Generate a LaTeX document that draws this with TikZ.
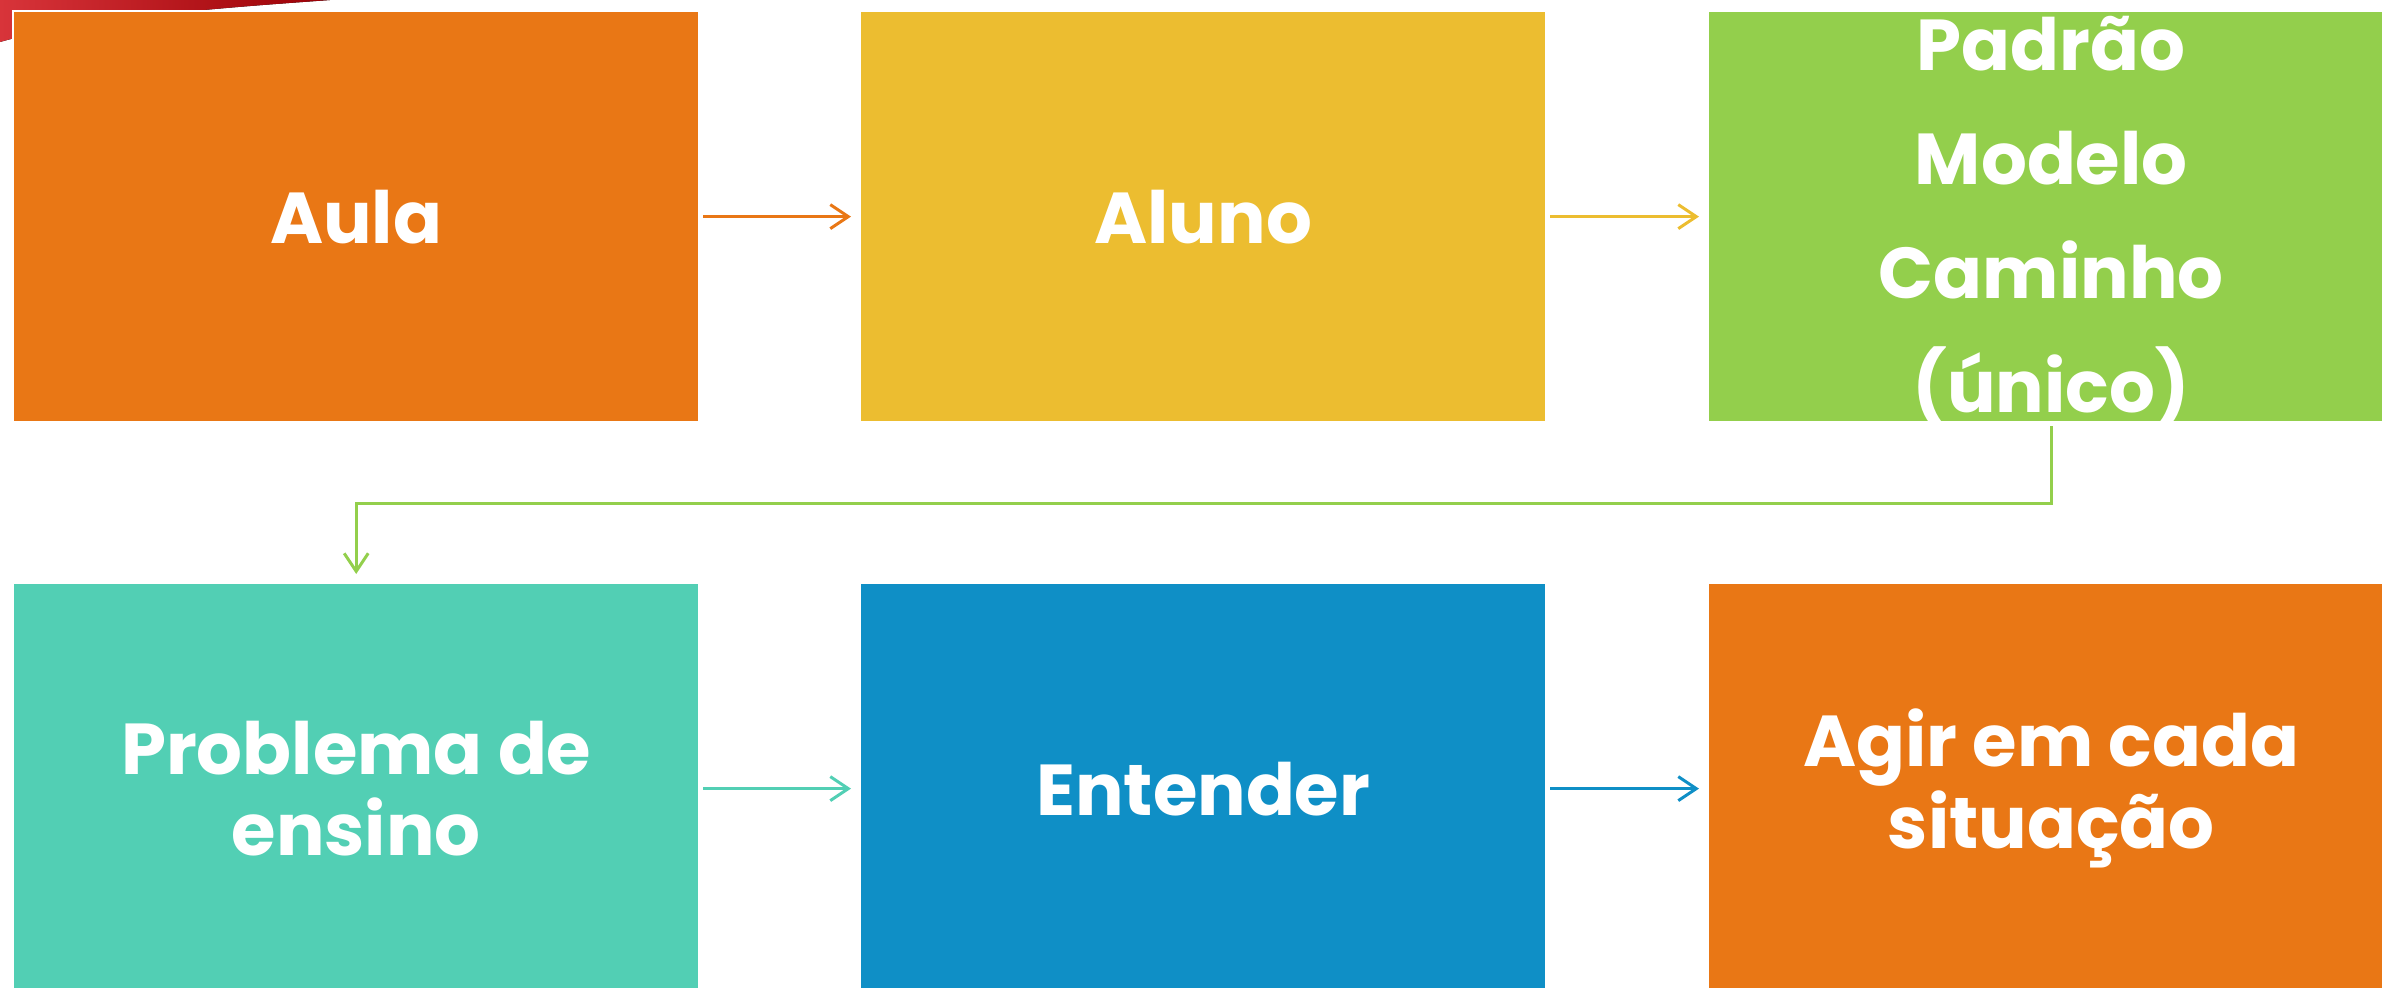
\documentclass[tikz,border=0pt]{standalone}
\usepackage{fontspec}
\setmainfont{Poppins}
\usetikzlibrary{arrows.meta}
\definecolor{cOrange}{HTML}{E97715}
\definecolor{cYellow}{HTML}{ECBD30}
\definecolor{cGreen}{HTML}{93CF4C}
\definecolor{cTeal}{HTML}{52CFB4}
\definecolor{cBlue}{HTML}{0F8FC6}
\definecolor{cRedL}{HTML}{D8343A}
\definecolor{cRedD}{HTML}{9A0005}
\begin{document}
\begin{tikzpicture}[x=0.01cm,y=-0.01cm,
  box/.style={anchor=north west,minimum width=6.86cm,minimum height=4.11cm,inner sep=0pt,draw=white,line width=0.02cm},
  lbl/.style={text=white,align=center,font=\bfseries\fontsize{20.5}{23.3}\selectfont},
  conn/.style={line width=0.03cm,-{Straight Barb[length=0.18cm,width=0.24cm,line width=0.03cm]},shorten <=0.03cm,shorten >=0.08cm}]
\useasboundingbox (0,0) rectangle (2382,988);
% red swoosh in the corner
\fill[left color=cRedL,right color=cRedD] (0,0) -- (330,0) .. controls (250,6) and (90,16) .. (0,42) -- cycle;
% boxes
\node[box,fill=cOrange] (b1) at (12,10) {};
\node[box,fill=cYellow] (b2) at (859,10) {};
\node[box,fill=cGreen]  (b3) at (1707,10) {};
\node[box,fill=cTeal]   (b4) at (12,582) {};
\node[box,fill=cBlue]   (b5) at (859,582) {};
\node[box,fill=cOrange] (b6) at (1707,582) {};
% labels
\node[lbl] (t1) at (b1.center) {Aula};
\node[lbl] (t2) at (b2.center) {Aluno};
\node[lbl,font=\bfseries\fontsize{20.5}{32.4}\selectfont] (t3) at ([yshift=-0.05cm]b3.center) {Padrão\\Modelo\\Caminho\\(único)};
\node[lbl] (t4) at (b4.center) {Problema de\\ensino};
\node[lbl] (t5) at (b5.center) {Entender};
\node[lbl] (t6) at (b6.center) {Agir em cada\\situação};
% connectors
\draw[conn,cOrange] (b1.east) -- (b2.west);
\draw[conn,cYellow] (b2.east) -- (b3.west);
\draw[conn,cGreen] (b3.south) -- ++(0,80) -| (b4.north);
\draw[conn,cTeal] (b4.east) -- (b5.west);
\draw[conn,cBlue] (b5.east) -- (b6.west);
\end{tikzpicture}
\end{document}
